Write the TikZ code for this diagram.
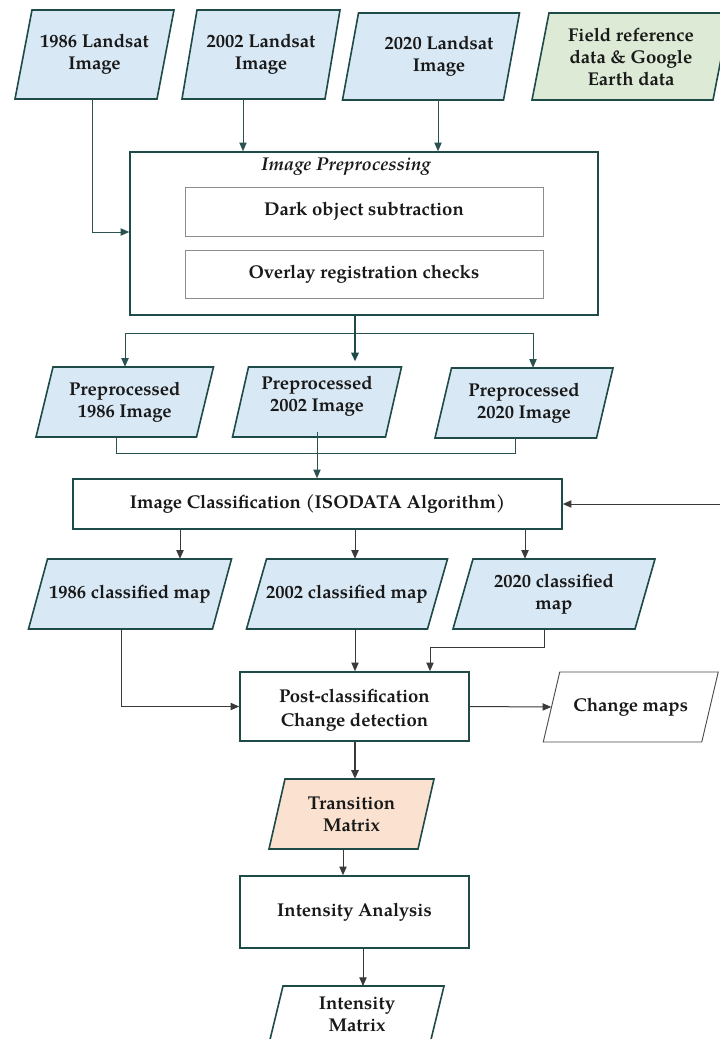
\documentclass[tikz,border=0pt]{standalone}
\usepackage{fontspec}
\setmainfont{texgyrepagella}[Extension=.otf, UprightFont=*-regular, BoldFont=*-bold, ItalicFont=*-italic, BoldItalicFont=*-bolditalic]
\usetikzlibrary{arrows.meta,calc}
\definecolor{edge}{HTML}{1E4B48}
\definecolor{bluef}{HTML}{D8E8F5}
\definecolor{greenf}{HTML}{DDEBD6}
\definecolor{peachf}{HTML}{FBE2D0}
\definecolor{lineu}{HTML}{2A5250}
\definecolor{linel}{HTML}{3A3A3A}
\tikzset{
  txt/.style={align=center, inner sep=0pt, font=\bfseries\fontsize{13.9}{16.5}\selectfont, text=black!90},
  boxline/.style={draw=edge, line width=1.2pt},
  rbox/.style={txt, boxline, fill=white},
  ibox/.style={txt, draw=black!45, line width=0.6pt, fill=white},
  tip/.style={-{Triangle[length=6.5pt,width=5.5pt]}},
  cu/.style={draw=lineu, line width=0.75pt},
  cl/.style={draw=linel, line width=0.75pt},
  ct/.style={draw=edge, line width=1.4pt},
}
\newcommand\pgram[9]{%
  \filldraw[#7] ({#2-#4-#6},{#3+#5}) -- ({#2+#4-#6},{#3+#5}) -- ({#2+#4+#6},{#3-#5}) -- ({#2-#4+#6},{#3-#5}) -- cycle;
  \node[txt, minimum width={1.5*#4pt}, minimum height={1.5*#5pt}, #9] (#1) at (#2,#3) {#8};
}
\begin{document}
\begin{tikzpicture}[x=0.75pt,y=-0.75pt]
\useasboundingbox (0,0) rectangle (719,1039);
\fill[white] (0,0) rectangle (719,1039);

% inputs
\pgram{l86}{94.5}{54.5}{71}{44.5}{8.5}{boxline,fill=bluef}{1986 Landsat\\Image}{}
\pgram{l02}{261}{54.5}{71.5}{44.5}{7.5}{boxline,fill=bluef}{2002 Landsat\\Image}{}
\pgram{l20}{431}{56.5}{80.5}{43.5}{8}{boxline,fill=bluef}{2020 Landsat\\Image}{xshift=6pt}
\pgram{fld}{631}{56.5}{90.5}{43.5}{8.5}{boxline,fill=greenf}{Field reference\\data \& Google\\Earth data}{}

% preprocessing
\node[rbox, minimum width=351pt, minimum height=122.25pt] (pre) at (364,233.5) {};
\node[txt, font=\bfseries\itshape\fontsize{13.9}{16.5}\selectfont] (pret) at (346,167) {Image Preprocessing};
\node[ibox, minimum width=268.5pt, minimum height=36.75pt] (dark) at (364,211.5) {Dark object subtraction};
\node[ibox, minimum width=268.5pt, minimum height=36pt] (ovl) at (364,274) {Overlay registration checks};

% preprocessed
\pgram{p86}{124.75}{402}{80.25}{35}{8.5}{boxline,fill=bluef}{Preprocessed\\1986 Image}{}
\pgram{p02}{317}{402}{76.5}{35}{8}{boxline,fill=bluef}{Preprocessed\\2002 Image}{yshift=4pt}
\pgram{p20}{524}{403}{80.75}{35}{8.25}{boxline,fill=bluef}{Preprocessed\\2020 Image}{}

% classification
\node[rbox, minimum width=366.75pt, minimum height=37.5pt] (cls) at (317.5,504) {Image Classification (ISODATA Algorithm)};

\pgram{c86}{130}{594}{92}{35}{9.5}{boxline,fill=bluef}{1986 classified map}{}
\pgram{c02}{347}{594}{90.5}{35}{10}{boxline,fill=bluef}{2002 classified map}{}
\pgram{c20}{554}{594}{91}{35}{10}{boxline,fill=bluef}{2020 classified\\map}{}

\node[rbox, minimum width=171.75pt, minimum height=51.75pt] (post) at (354.5,706.5) {};
\node[txt, font=\bfseries\fontsize{13.9}{18}\selectfont] (postt) at (354.5,710) {Post-classification\\Change detection};
\pgram{chg}{630.75}{707}{79.25}{35}{8.25}{draw=black!70,line width=0.7pt,fill=white}{Change maps}{}

\pgram{trn}{351.5}{814}{74.5}{35}{8}{boxline,fill=peachf}{Transition\\Matrix}{}
\node[rbox, minimum width=171.75pt, minimum height=54pt] (ia) at (354.5,912) {Intensity Analysis};
\filldraw[boxline,fill=white] (266,1056) -- (427,1056) -- (444,986) -- (283,986) -- cycle;
\node[txt, anchor=north, minimum width=120pt, minimum height=42pt] (im) at (357,986) {Intensity\\Matrix};

% connectors top
\draw[cu,tip] (l86.south -| 92,0) |- (pre.west |- 0,232);
\draw[cu,tip] (l02.south -| 243,0) -- (pre.north -| 243,0);
\draw[cu,tip] (l20.south -| 438,0) -- (pre.north -| 438,0);

\coordinate (sp) at (355,333);
\draw[ct] (pre.south -| 355,0) -- (sp);
\draw[cu,tip] (sp) -| (p86.north -| 125,0);
\draw[ct,tip] (sp) -- (p02.north -| 355,0);
\draw[cu,tip] (sp) -| (p20.north -| 533,0);

\coordinate (mg) at (317,453);
\draw[cu] (p86.south -| 116,0) |- (mg);
\draw[cu] (p20.south -| 515,0) |- (mg);
\draw[cu,tip] (p02.south -| 317,0) -- (cls.north -| 317,0);

\coordinate (ext) at (725,504);
\draw[cl,tip] (ext) -- (cls.east);

\draw[cl,tip] (cls.south -| 180,0) -- (c86.north -| 180,0);
\draw[cl,tip] (cls.south -| 355,0) -- (c02.north -| 355,0);
\draw[cl,tip] (cls.south -| 525,0) -- (c20.north -| 525,0);

\draw[cl,tip] (c86.south -| 121,0) |- (post.west);
\draw[cl,tip] (c02.south -| 355,0) -- (post.north -| 355,0);
\draw[cl,tip] (c20.south -| 544,0) -- (544,647) -| (post.north -| 430,0);
\draw[cl,tip] (post.east) -- (chg.west);

\draw[cl,line width=1.4pt,tip] (post.south -| 355,0) -- (trn.north -| 355,0);
\draw[cl,tip] (trn.south -| 343,0) -- (ia.north -| 343,0);
\draw[cl,tip] (ia.south -| 363,0) -- (im.north -| 363,0);
\end{tikzpicture}
\end{document}
